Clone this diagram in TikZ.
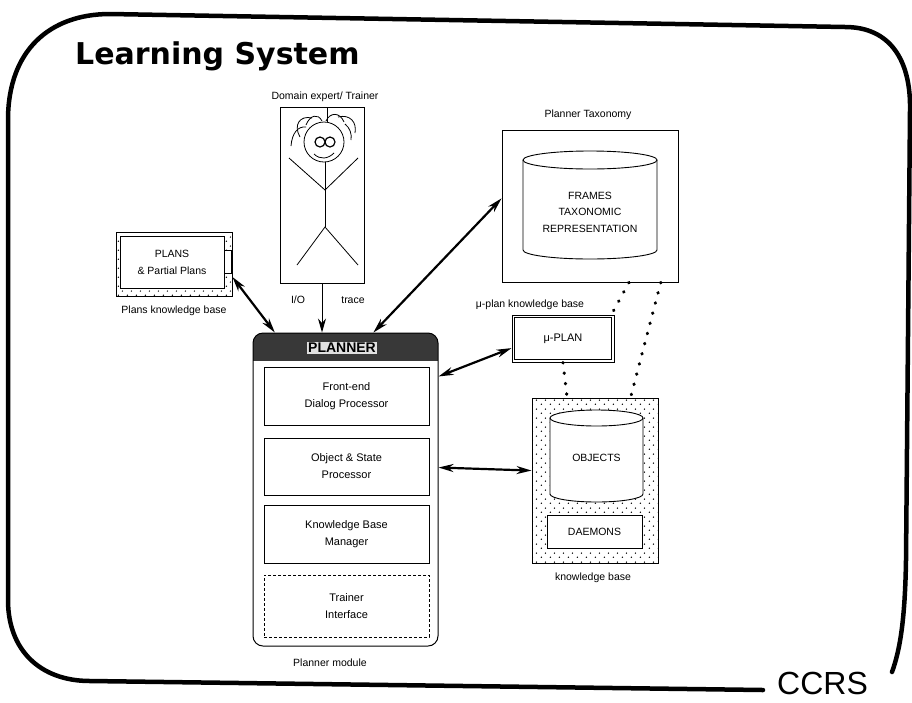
\documentclass[tikz,border=0pt]{standalone}
\usepackage{fontspec}
\setmainfont{Liberation Sans}
\newfontfamily\titlefont{DejaVu Sans}
\usetikzlibrary{arrows.meta,patterns.meta,calc}

% sparse stipple used for the knowledge-base frames
\tikzdeclarepattern{
  name=sparsedots,
  type=uncolored,
  bounding box={(0pt,0pt) and (9pt,9pt)},
  tile size={(9pt,9pt)},
  code={
    \fill (1.5pt,2pt) circle (0.8pt);
    \fill (6pt,6.5pt) circle (0.8pt);
  }
}

\begin{document}
\begin{tikzpicture}[x=1pt,y=-1pt,
  lbl/.style={font=\fontsize{10.5}{12}\selectfont, inner sep=0pt},
  boxtext/.style={font=\fontsize{11}{17}\selectfont, align=center},
  plainbox/.style={draw, line width=0.9pt},
  inbox/.style={plainbox, boxtext, minimum width=165, minimum height=58},
  stipple/.style={draw, line width=0.9pt, pattern=sparsedots, pattern color=black},
  twoway/.style={line width=2.2pt, {Stealth[length=15pt,width=8pt]}-{Stealth[length=15pt,width=8pt]}},
  oneway/.style={line width=1pt, -{Stealth[length=14pt,width=8pt]}},
  dotlink/.style={line width=3.2pt, line cap=round, dash pattern=on 0.5pt off 10pt},
  frameline/.style={line width=4.5pt, line cap=round}
]
\useasboundingbox (0,0) rectangle (912,702);

% ---------- outer slide frame ----------
\draw[frameline] (892,672) .. controls (900,650) and (905,620) .. (906,560)
  -- (910,110) .. controls (911,60) and (890,27) .. (845,27)
  -- (110,14) .. controls (50,14) and (8,50) .. (8,120)
  -- (8,600) .. controls (8,650) and (40,681) .. (90,681) -- (763,690);

\node[anchor=base west, font=\titlefont\bfseries\fontsize{30}{30}\selectfont, inner sep=0pt]
  (title) at (75,64) {Learning System};
\node[anchor=base west, font=\fontsize{32}{32}\selectfont, inner sep=0pt]
  (ccrs) at (777,694) {CCRS};

% ---------- domain expert ----------
\node[lbl] (explbl) at (325,97) {Domain expert/ Trainer};
\node[plainbox, minimum width=84, minimum height=176] (expert) at (322,195) {};
\begin{scope}[line width=0.8pt]
  \draw (324,142) circle[radius=20pt];
  \draw[line width=1.2pt] (320,142) circle[radius=5pt] (330,142) circle[radius=5pt];
  \draw (314,154) .. controls (320,160) and (328,159) .. (334,153);
  \draw (325,162) -- (325,227);
  \draw (289,158) -- (325,190) -- (358,158);
  \draw (297,265) -- (325,227) -- (358,265);
  % hair
  \draw (327,108) -- (327,122);
  \draw (300,137) .. controls (293,125) and (300,115) .. (312,118);
  \draw (306,125) .. controls (310,115) and (318,113) .. (322,121);
  \draw (326,121) .. controls (330,112) and (340,112) .. (344,122);
  \draw (338,117) .. controls (350,114) and (357,122) .. (355,133);
  \draw (291,146) .. controls (292,133) and (298,126) .. (306,127);
  \draw (345,124) .. controls (350,128) and (352,134) .. (351,140);
\end{scope}

% ---------- planner taxonomy ----------
\node[lbl] (taxlbl) at (588,115) {Planner Taxonomy};
\node[plainbox, minimum width=176, minimum height=152] (taxo) at (590,206) {};
\draw[line width=0.9pt] (523,160) -- (523,250)
  arc[start angle=180, end angle=360, x radius=67pt, y radius=9pt] -- (657,160);
\draw[line width=0.9pt] (590,160) ellipse[x radius=67pt, y radius=9pt];
\node[boxtext, font=\fontsize{10.5}{16.5}\selectfont] (frames) at (590,212)
  {FRAMES\\TAXONOMIC\\REPRESENTATION};

% ---------- plans knowledge base ----------
\node[stipple, minimum width=116, minimum height=64] (plans) at (174,264) {};
\node[plainbox, fill=white, boxtext, minimum width=104, minimum height=52, font=\fontsize{10.5}{17}\selectfont]
  (planstext) at (172,262) {PLANS\\\& Partial Plans};
\draw[line width=0.9pt, fill=white] (224,250) rectangle (231,273);
\node[lbl] (planslbl) at (174,311) {Plans knowledge base};

% ---------- planner module ----------
\begin{scope}
  \clip[rounded corners=10pt] (253,333) rectangle (438,646);
  \fill[black!78] (253,333) rectangle (438,361);
\end{scope}
\node[draw, line width=1pt, rounded corners=10pt, minimum width=185, minimum height=313]
  (planner) at (345.5,489.5) {};
\node[fill=black!12, inner sep=1.5pt, font=\bfseries\fontsize{14}{14}\selectfont]
  (ptitle) at (342,348) {PLANNER};
\node[inbox] (front) at (346.5,396) {Front-end\\Dialog Processor};
\node[inbox, minimum height=57] (objst) at (346.5,466.5) {Object \& State\\Processor};
\node[inbox] (kbm) at (346.5,534) {Knowledge Base\\Manager};
\node[inbox, densely dashed, line width=0.7pt, minimum height=62] (trainer) at (346.5,606) {Trainer\\Interface};
\node[lbl] (pmlbl) at (330,663) {Planner module};

% ---------- mu-plan ----------
\node[lbl] (mulbl) at (530,305) {μ-plan knowledge base};
\node[plainbox, line width=1pt, minimum width=102, minimum height=47, boxtext] (mu) at (563,338.5) {μ-PLAN};
\draw[line width=0.7pt] ([shift={(3,3)}]mu.north west) rectangle ([shift={(-3,-3)}]mu.south east);

% ---------- object knowledge base ----------
\node[stipple, minimum width=126, minimum height=165] (kb) at (595,480.5) {};
\fill[white] (550,418) -- (550,494)
  arc[start angle=180, end angle=360, x radius=46.5pt, y radius=8pt] -- (643,418)
  arc[start angle=0, end angle=180, x radius=46.5pt, y radius=8pt] -- cycle;
\draw[line width=0.9pt] (550,418) -- (550,494)
  arc[start angle=180, end angle=360, x radius=46.5pt, y radius=8pt] -- (643,418);
\draw[line width=0.9pt] (596.5,418) ellipse[x radius=46.5pt, y radius=8pt];
\node[boxtext, font=\fontsize{10.5}{12}\selectfont] (objects) at (596.5,458) {OBJECTS};
\node[plainbox, fill=white, boxtext, font=\fontsize{10.5}{12}\selectfont, minimum width=95, minimum height=33]
  (daemons) at (594.5,531.5) {DAEMONS};
\node[lbl] (kblbl) at (593,578) {knowledge base};

% ---------- connectors ----------
\draw[oneway] (expert.south) -- (expert.south |- planner.north);
\node[lbl] (io) at (298,300) {I/O};
\node[lbl] (trace) at (353,300) {trace};
\draw[twoway] ($(plans.north east)!0.7!(plans.south east)$) -- ($(planner.north west)!0.12!(planner.north east)$);
\draw[twoway] ($(planner.north west)!0.65!(planner.north east)$) -- ($(taxo.north west)!0.45!(taxo.south west)$);
\draw[twoway] ($(planner.north east)!0.14!(planner.south east)$) -- ($(mu.north west)!0.7!(mu.south west)$);
\draw[twoway] ($(planner.north east)!0.43!(planner.south east)$) -- ($(kb.north west)!0.44!(kb.south west)$);

\draw[dotlink] ($(taxo.south west)!0.72!(taxo.south east)$) -- ([xshift=-3pt]mu.north east);
\draw[dotlink] ($(taxo.south west)!0.9!(taxo.south east)$) -- ($(kb.north west)!0.78!(kb.north east)$);
\draw[dotlink] (mu.south) -- ($(kb.north west)!0.28!(kb.north east)$);
\end{tikzpicture}
\end{document}
